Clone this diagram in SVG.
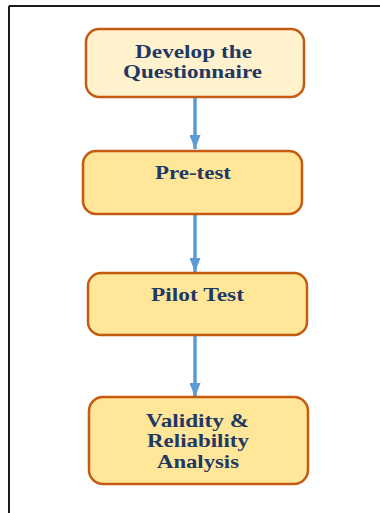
<svg xmlns="http://www.w3.org/2000/svg" width="380" height="513" viewBox="0 0 380 513">
<style>
.box{stroke:#C55A11;stroke-width:2.5}
.lbl{font-family:"Liberation Serif","Times New Roman",serif;font-weight:bold;font-size:19px;fill:#1F3864;text-anchor:middle}
.conn{stroke:#5B9BD5;stroke-width:3.5;fill:none}
</style>
<defs>
<marker id="ah" viewBox="0 0 14 11" refX="14" refY="5.5" markerWidth="14" markerHeight="11" markerUnits="userSpaceOnUse" orient="auto">
<path d="M0,0 L14,5.5 L0,11 Z" fill="#5B9BD5"/>
</marker>
</defs>
<rect width="380" height="513" fill="#fff"/>
<g id="frame" stroke="#1a1a1a" stroke-width="2" fill="none">
<line x1="9" y1="6" x2="380" y2="6"/>
<line x1="9" y1="6" x2="9" y2="513"/>
</g>
<g id="connectors">
<line class="conn" x1="195" y1="97" x2="195" y2="149" marker-end="url(#ah)"/>
<line class="conn" x1="195" y1="214" x2="195" y2="272" marker-end="url(#ah)"/>
<line class="conn" x1="195" y1="335" x2="195" y2="397" marker-end="url(#ah)"/>
</g>
<g id="node1">
<rect class="box" x="86" y="29" width="218" height="68" rx="13" fill="#FFF2CC"/>
<text class="lbl" x="193.5" y="58" textLength="117" lengthAdjust="spacingAndGlyphs">Develop the</text>
<text class="lbl" x="192.5" y="78" textLength="139" lengthAdjust="spacingAndGlyphs">Questionnaire</text>
</g>
<g id="node2">
<rect class="box" x="83" y="151" width="219" height="63" rx="13" fill="#FFE699"/>
<text class="lbl" x="193" y="179" textLength="76" lengthAdjust="spacingAndGlyphs">Pre-test</text>
</g>
<g id="node3">
<rect class="box" x="88" y="273" width="219" height="62" rx="13" fill="#FFE699"/>
<text class="lbl" x="197.5" y="301" textLength="93" lengthAdjust="spacingAndGlyphs">Pilot Test</text>
</g>
<g id="node4">
<rect class="box" x="89" y="397" width="219" height="87" rx="14" fill="#FFE699"/>
<text class="lbl" x="197.5" y="427" textLength="103" lengthAdjust="spacingAndGlyphs">Validity &amp;</text>
<text class="lbl" x="198" y="447" textLength="102" lengthAdjust="spacingAndGlyphs">Reliability</text>
<text class="lbl" x="198" y="468" textLength="82" lengthAdjust="spacingAndGlyphs">Analysis</text>
</g>
</svg>
